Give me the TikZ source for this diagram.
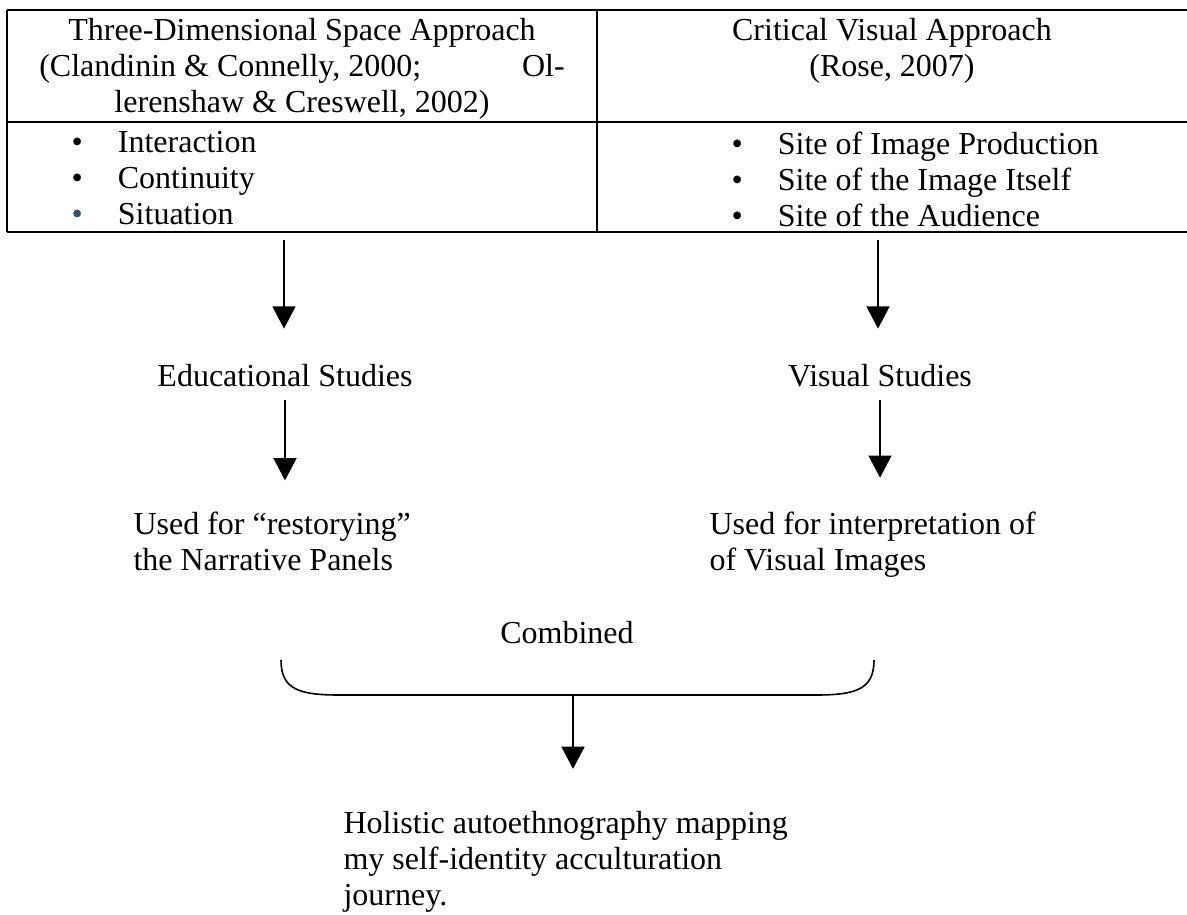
\documentclass[tikz,border=0pt]{standalone}
\usepackage{fontspec}
\setmainfont{Liberation Serif}
\usetikzlibrary{arrows.meta}
\definecolor{bulletblue}{RGB}{52,81,125}
\newcommand{\itm}[1]{\makebox[17.4pt][l]{\textbullet}#1}
\newcommand{\itmb}[1]{\makebox[17.4pt][l]{\textcolor{bulletblue}{\textbullet}}#1}

\begin{document}
\begin{tikzpicture}[x=0.375pt, y=-0.375pt,
  txt/.style = {inner sep=0pt, font=\fontsize{12}{13.5}\selectfont},
  rule/.style = {line width=0.7pt},
  arr/.style = {line width=0.6pt, -{Triangle[width=8.6pt,length=8.3pt]}}]
\useasboundingbox (0,0) rectangle (1187,914);

\draw[rule] (7,10) -- (1187,10);
\draw[rule] (7,122) -- (1187,122);
\draw[rule] (7,232) -- (1187,232);
\draw[rule] (7,10) -- (7,232);
\draw[rule] (597,10) -- (597,232);

\node[txt, anchor=north, align=center] (lhead) at (302,18)
  {Three-Dimensional Space Approach\\
   \makebox[197pt]{(Clandinin \& Connelly, 2000;\hfill Ol-}\\
   lerenshaw \& Creswell, 2002)};
\node[txt, anchor=north, align=center] (rhead) at (892,18)
  {Critical Visual Approach\\ (Rose, 2007)};
\node[txt, anchor=north west, align=left] (llist) at (71,131)
  {\itm{Interaction}\\ \itm{Continuity}\\ \itmb{Situation}};
\node[txt, anchor=north west, align=left] (rlist) at (731,131)
  {\itm{Site of Image Production}\\ \itm{Site of the Image Itself}\\ \itm{Site of the Audience}};

\node[txt, anchor=base] (edu) at (285,386) {Educational Studies};
\node[txt, anchor=base] (vis) at (880,386) {Visual Studies};
\node[txt, anchor=north west, align=left] (used1) at (133,511)
  {Used for “restorying”\\ the Narrative Panels};
\node[txt, anchor=north west, align=left] (used2) at (709,511)
  {Used for interpretation of\\ of Visual Images};
\node[txt, anchor=base] (comb) at (567,643) {Combined};
\node[txt, anchor=north west, align=left] (hol) at (343,811)
  {Holistic autoethnography mapping\\ my self-identity acculturation\\ journey.};

\coordinate (tl) at (284,240);
\coordinate (tr) at (878,240);
\coordinate (bl) at (281,660);
\coordinate (br) at (874,660);
\coordinate (bm) at (573,695);

\draw[arr, shorten >=13pt] (tl) -- (tl |- edu.north);
\draw[arr, shorten >=13pt] (tr) -- (tr |- vis.north);
\draw[arr, shorten <=4.9pt, shorten >=11.5pt] (edu.south) -- (edu.south |- used1.north);
\draw[arr, shorten <=4.9pt, shorten >=12.5pt] (vis.south) -- (vis.south |- used2.north);
\draw[line width=0.6pt] (bl) .. controls (281,690) and (300,695) .. (340,695)
  -- (815,695) .. controls (855,695) and (874,690) .. (br);
\draw[arr, shorten >=15.8pt] (bm) -- (bm |- hol.north);
\end{tikzpicture}
\end{document}
